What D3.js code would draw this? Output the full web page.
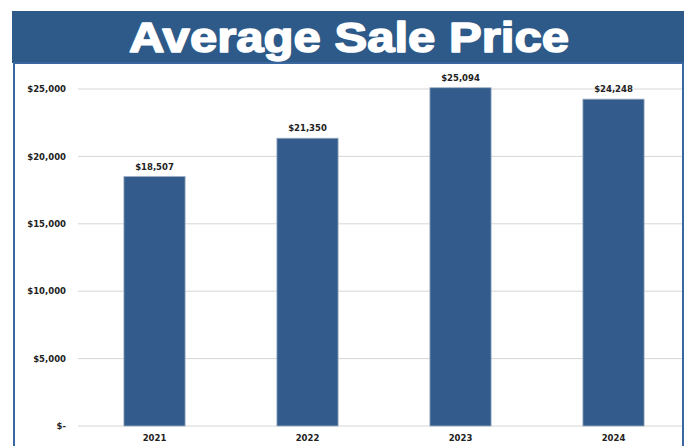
<!DOCTYPE html>
<html>
<head>
<meta charset="utf-8">
<script src="https://cdn.jsdelivr.net/npm/d3@7"></script>
<style>
  html, body { margin: 0; padding: 0; background: #fff; }
  svg { display: block; }
</style>
</head>
<body>
<div id="chart"></div>
<script>
const years = ['2021', '2022', '2023', '2024'];
const prices = [18507, 21350, 25094, 24248];
const yTicks = [0, 5000, 10000, 15000, 20000, 25000];
const title = 'Average Sale Price';

const width = 688, height = 446;
const blue = '#2d5a89';
const barBlue = '#335b8b';

const svg = d3.select('#chart').append('svg').attr('width', width).attr('height', height);

// title band + frame
svg.append('rect').attr('x', 12).attr('y', 11).attr('width', 672).attr('height', 52).style('fill', blue);
svg.append('rect').attr('x', 14).attr('y', 63).attr('width', 669).attr('height', 400)
  .style('fill', '#fff').style('stroke', '#3a67a0').style('stroke-width', 2);
svg.append('text').attr('x', 349).attr('y', 52).attr('text-anchor', 'middle')
  .attr('textLength', 440).attr('lengthAdjust', 'spacingAndGlyphs')
  .style('font-family', '"Liberation Sans", Arial, sans-serif').style('font-weight', 700)
  .style('font-size', '43px').style('fill', '#fff')
  .style('stroke', '#fff').style('stroke-width', 1.6).style('stroke-linejoin', 'round')
  .text(title);

const x = d3.scaleBand().domain(years).range([78, 690]).paddingInner(0.6).paddingOuter(0.3);
const y = d3.scaleLinear().domain([0, 25000]).range([426, 89]);

const fmt = d => d === 0 ? '$-' : '$' + d3.format(',')(d);

// grid
svg.append('g').selectAll('line').data(yTicks).join('line')
  .attr('x1', 78).attr('x2', 682).attr('y1', d => y(d)).attr('y2', d => y(d))
  .style('stroke', '#d6d6d6').style('stroke-width', 1);

// y axis
const yAxis = svg.append('g').attr('transform', 'translate(66,0)')
  .call(d3.axisLeft(y).tickValues(yTicks).tickSize(0).tickPadding(0).tickFormat(fmt));
yAxis.select('.domain').remove();
yAxis.selectAll('text').style('font-family', '"DejaVu Sans", sans-serif').style('font-weight', 700)
  .style('font-size', '8.5px').style('fill', '#222');

// bars
svg.append('g').selectAll('rect').data(prices).join('rect')
  .attr('x', (d, i) => x(years[i])).attr('width', x.bandwidth())
  .attr('y', d => y(d)).attr('height', d => y(0) - y(d))
  .style('fill', barBlue).style('stroke', '#9fb0c4').style('stroke-width', 0.8);

// value labels
svg.append('g').selectAll('text').data(prices).join('text')
  .attr('x', (d, i) => x(years[i]) + x.bandwidth() / 2).attr('y', d => y(d) - 7)
  .attr('text-anchor', 'middle')
  .style('font-family', '"DejaVu Sans", sans-serif').style('font-weight', 700)
  .style('font-size', '8.5px').style('fill', '#222').text(d => fmt(d));

// x axis
const xAxis = svg.append('g').attr('transform', 'translate(0,426)')
  .call(d3.axisBottom(x).tickSize(0).tickPadding(9));
xAxis.select('.domain').remove();
xAxis.selectAll('text').style('font-family', '"DejaVu Sans", sans-serif').style('font-weight', 700)
  .style('font-size', '8.5px').style('fill', '#222');
</script>
</body>
</html>
